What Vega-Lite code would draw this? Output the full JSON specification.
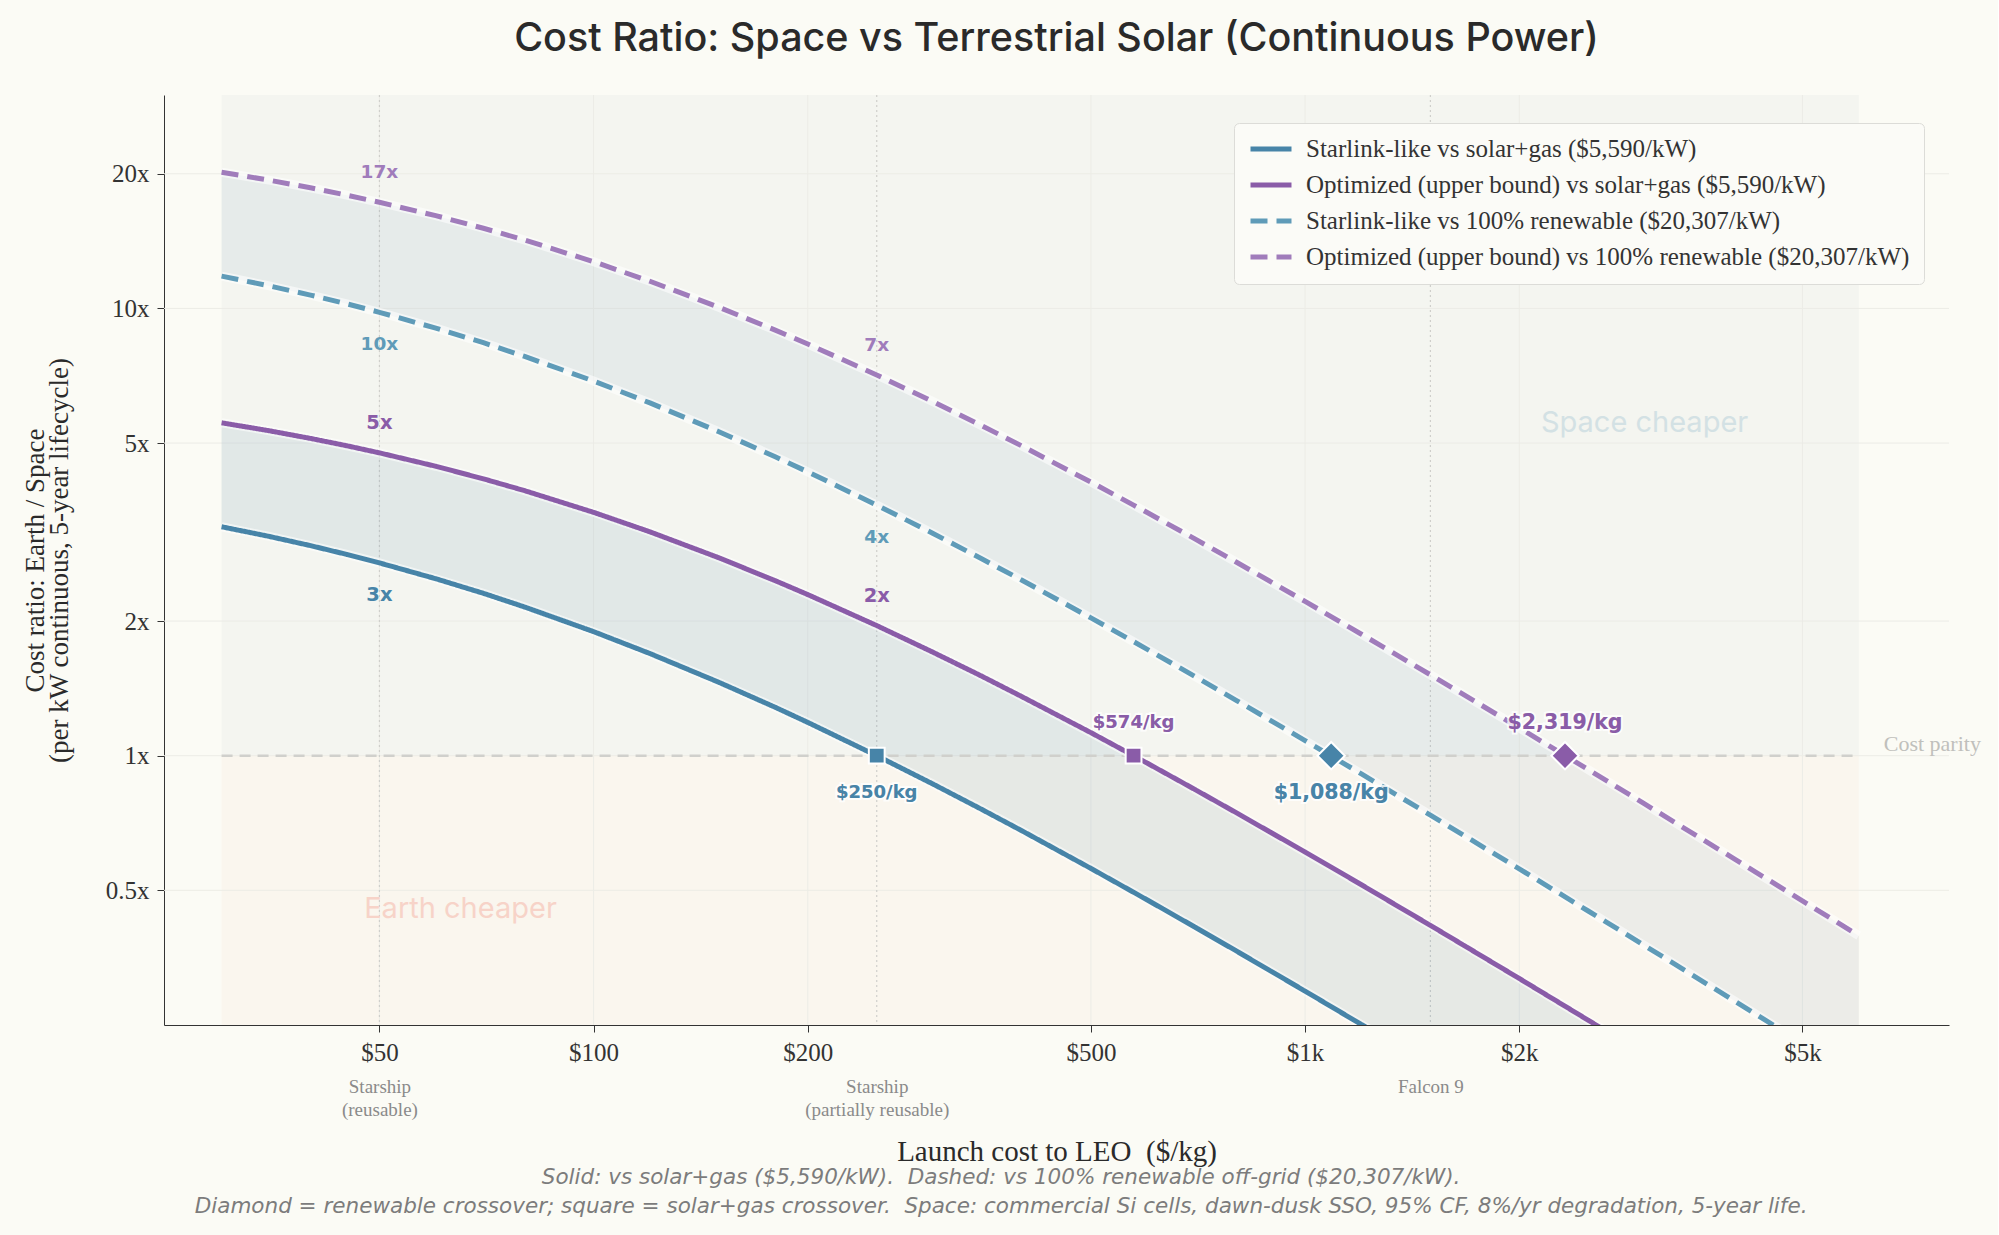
{
  "$schema": "https://vega.github.io/schema/vega-lite/v6.json",
  "background": "#fbfbf5",
  "padding": {"left": 21, "top": 18, "right": 17, "bottom": 22},
  "title": {
    "text": [
      "Solid: vs solar+gas ($5,590/kW).\u00a0 Dashed: vs 100% renewable off-grid ($20,307/kW).",
      "Diamond = renewable crossover; square = solar+gas crossover.\u00a0 Space: commercial Si cells, dawn-dusk SSO, 95% CF, 8%/yr degradation, 5-year life."
    ],
    "orient": "bottom",
    "anchor": "middle",
    "frame": "bounds",
    "font": "DejaVu Sans",
    "fontStyle": "italic",
    "fontWeight": "normal",
    "fontSize": 21.5,
    "color": "#7c7c7c",
    "lineHeight": 29,
    "offset": 1
  },
  "datasets": {
    "curves": [
      {"L": 30, "key": "s1", "ratio": 3.25}, {"L": 30, "key": "s2", "ratio": 5.55}, {"L": 30, "key": "d1", "ratio": 11.81}, {"L": 30, "key": "d2", "ratio": 20.16},
      {"L": 35, "key": "s1", "ratio": 3.092}, {"L": 35, "key": "s2", "ratio": 5.327}, {"L": 35, "key": "d1", "ratio": 11.23}, {"L": 35, "key": "d2", "ratio": 19.35},
      {"L": 40, "key": "s1", "ratio": 2.949}, {"L": 40, "key": "s2", "ratio": 5.121}, {"L": 40, "key": "d1", "ratio": 10.71}, {"L": 40, "key": "d2", "ratio": 18.61},
      {"L": 45, "key": "s1", "ratio": 2.818}, {"L": 45, "key": "s2", "ratio": 4.931}, {"L": 45, "key": "d1", "ratio": 10.24}, {"L": 45, "key": "d2", "ratio": 17.91},
      {"L": 50, "key": "s1", "ratio": 2.698}, {"L": 50, "key": "s2", "ratio": 4.754}, {"L": 50, "key": "d1", "ratio": 9.802}, {"L": 50, "key": "d2", "ratio": 17.27},
      {"L": 60, "key": "s1", "ratio": 2.487}, {"L": 60, "key": "s2", "ratio": 4.437}, {"L": 60, "key": "d1", "ratio": 9.035}, {"L": 60, "key": "d2", "ratio": 16.12},
      {"L": 70, "key": "s1", "ratio": 2.307}, {"L": 70, "key": "s2", "ratio": 4.159}, {"L": 70, "key": "d1", "ratio": 8.381}, {"L": 70, "key": "d2", "ratio": 15.11},
      {"L": 80, "key": "s1", "ratio": 2.15}, {"L": 80, "key": "s2", "ratio": 3.913}, {"L": 80, "key": "d1", "ratio": 7.811}, {"L": 80, "key": "d2", "ratio": 14.22},
      {"L": 100, "key": "s1", "ratio": 1.894}, {"L": 100, "key": "s2", "ratio": 3.5}, {"L": 100, "key": "d1", "ratio": 6.881}, {"L": 100, "key": "d2", "ratio": 12.72},
      {"L": 120, "key": "s1", "ratio": 1.692}, {"L": 120, "key": "s2", "ratio": 3.166}, {"L": 120, "key": "d1", "ratio": 6.147}, {"L": 120, "key": "d2", "ratio": 11.5},
      {"L": 150, "key": "s1", "ratio": 1.459}, {"L": 150, "key": "s2", "ratio": 2.77}, {"L": 150, "key": "d1", "ratio": 5.301}, {"L": 150, "key": "d2", "ratio": 10.06},
      {"L": 180, "key": "s1", "ratio": 1.283}, {"L": 180, "key": "s2", "ratio": 2.462}, {"L": 180, "key": "d1", "ratio": 4.659}, {"L": 180, "key": "d2", "ratio": 8.943},
      {"L": 200, "key": "s1", "ratio": 1.187}, {"L": 200, "key": "s2", "ratio": 2.292}, {"L": 200, "key": "d1", "ratio": 4.311}, {"L": 200, "key": "d2", "ratio": 8.325},
      {"L": 250, "key": "s1", "ratio": 1.0}, {"L": 250, "key": "s2", "ratio": 1.954}, {"L": 250, "key": "d1", "ratio": 3.633}, {"L": 250, "key": "d2", "ratio": 7.099},
      {"L": 300, "key": "s1", "ratio": 0.864}, {"L": 300, "key": "s2", "ratio": 1.703}, {"L": 300, "key": "d1", "ratio": 3.139}, {"L": 300, "key": "d2", "ratio": 6.188},
      {"L": 350, "key": "s1", "ratio": 0.7606}, {"L": 350, "key": "s2", "ratio": 1.51}, {"L": 350, "key": "d1", "ratio": 2.763}, {"L": 350, "key": "d2", "ratio": 5.484},
      {"L": 400, "key": "s1", "ratio": 0.6793}, {"L": 400, "key": "s2", "ratio": 1.355}, {"L": 400, "key": "d1", "ratio": 2.468}, {"L": 400, "key": "d2", "ratio": 4.924},
      {"L": 500, "key": "s1", "ratio": 0.5597}, {"L": 500, "key": "s2", "ratio": 1.126}, {"L": 500, "key": "d1", "ratio": 2.033}, {"L": 500, "key": "d2", "ratio": 4.089},
      {"L": 574, "key": "s1", "ratio": 0.4951}, {"L": 574, "key": "s2", "ratio": 1.0}, {"L": 574, "key": "d1", "ratio": 1.799}, {"L": 574, "key": "d2", "ratio": 3.633},
      {"L": 600, "key": "s1", "ratio": 0.4759}, {"L": 600, "key": "s2", "ratio": 0.9623}, {"L": 600, "key": "d1", "ratio": 1.729}, {"L": 600, "key": "d2", "ratio": 3.496},
      {"L": 700, "key": "s1", "ratio": 0.4139}, {"L": 700, "key": "s2", "ratio": 0.8404}, {"L": 700, "key": "d1", "ratio": 1.504}, {"L": 700, "key": "d2", "ratio": 3.053},
      {"L": 800, "key": "s1", "ratio": 0.3662}, {"L": 800, "key": "s2", "ratio": 0.7459}, {"L": 800, "key": "d1", "ratio": 1.33}, {"L": 800, "key": "d2", "ratio": 2.71},
      {"L": 1000, "key": "s1", "ratio": 0.2976}, {"L": 1000, "key": "s2", "ratio": 0.609}, {"L": 1000, "key": "d1", "ratio": 1.081}, {"L": 1000, "key": "d2", "ratio": 2.213},
      {"L": 1200, "key": "s1", "ratio": 0.2506}, {"L": 1200, "key": "s2", "ratio": 0.5146}, {"L": 1200, "key": "d1", "ratio": 0.9105}, {"L": 1200, "key": "d2", "ratio": 1.869},
      {"L": 1500, "key": "s1", "ratio": 0.2027}, {"L": 1500, "key": "s2", "ratio": 0.4175}, {"L": 1500, "key": "d1", "ratio": 0.7364}, {"L": 1500, "key": "d2", "ratio": 1.517},
      {"L": 2000, "key": "s1", "ratio": 0.1537}, {"L": 2000, "key": "s2", "ratio": 0.3176}, {"L": 2000, "key": "d1", "ratio": 0.5584}, {"L": 2000, "key": "d2", "ratio": 1.154},
      {"L": 2500, "key": "s1", "ratio": 0.1238}, {"L": 2500, "key": "s2", "ratio": 0.2562}, {"L": 2500, "key": "d1", "ratio": 0.4496}, {"L": 2500, "key": "d2", "ratio": 0.931},
      {"L": 3000, "key": "s1", "ratio": 0.1036}, {"L": 3000, "key": "s2", "ratio": 0.2148}, {"L": 3000, "key": "d1", "ratio": 0.3763}, {"L": 3000, "key": "d2", "ratio": 0.7803},
      {"L": 4000, "key": "s1", "ratio": 0.0781}, {"L": 4000, "key": "s2", "ratio": 0.1623}, {"L": 4000, "key": "d1", "ratio": 0.2838}, {"L": 4000, "key": "d2", "ratio": 0.5895},
      {"L": 5000, "key": "s1", "ratio": 0.0627}, {"L": 5000, "key": "s2", "ratio": 0.1304}, {"L": 5000, "key": "d1", "ratio": 0.2278}, {"L": 5000, "key": "d2", "ratio": 0.4737},
      {"L": 6000, "key": "s1", "ratio": 0.0524}, {"L": 6000, "key": "s2", "ratio": 0.109}, {"L": 6000, "key": "d1", "ratio": 0.1903}, {"L": 6000, "key": "d2", "ratio": 0.3959}
    ],
    "zones": [
      {"zone": "Space cheaper", "x0": 30, "x1": 6000, "lo": 1, "hi": 30},
      {"zone": "Earth cheaper", "x0": 30, "x1": 6000, "lo": 0.25, "hi": 1}
    ],
    "gridx": [{"L": 50}, {"L": 100}, {"L": 200}, {"L": 500}, {"L": 1000}, {"L": 2000}, {"L": 5000}],
    "gridy": [{"ratio": 0.5}, {"ratio": 1}, {"ratio": 2}, {"ratio": 5}, {"ratio": 10}, {"ratio": 20}],
    "vehicles": [
      {"L": 50, "vehicle": "Starship (reusable)"},
      {"L": 250, "vehicle": "Starship (partially reusable)"},
      {"L": 1500, "vehicle": "Falcon 9"}
    ],
    "parity": [{"x0": 30, "x1": 6000, "ratio": 1, "text": "Cost parity"}],
    "crossings": [
      {"L": 250, "ratio": 1, "family": "Starlink-like", "marker": "square", "pos": "below", "text": "$250/kg"},
      {"L": 574, "ratio": 1, "family": "Optimized", "marker": "square", "pos": "above", "text": "$574/kg"},
      {"L": 1088, "ratio": 1, "family": "Starlink-like", "marker": "diamond", "pos": "below", "text": "$1,088/kg"},
      {"L": 2319, "ratio": 1, "family": "Optimized", "marker": "diamond", "pos": "above", "text": "$2,319/kg"}
    ],
    "ratioLabels": [
      {"L": 50, "key": "d2", "kind": "dashed", "pos": "above", "ratio": 17.27, "text": "17x"},
      {"L": 50, "key": "d1", "kind": "dashed", "pos": "below", "ratio": 9.802, "text": "10x"},
      {"L": 50, "key": "s2", "kind": "solid", "pos": "above", "ratio": 4.754, "text": "5x"},
      {"L": 50, "key": "s1", "kind": "solid", "pos": "below", "ratio": 2.698, "text": "3x"},
      {"L": 250, "key": "d2", "kind": "dashed", "pos": "above", "ratio": 7.099, "text": "7x"},
      {"L": 250, "key": "d1", "kind": "dashed", "pos": "below", "ratio": 3.633, "text": "4x"},
      {"L": 250, "key": "s2", "kind": "solid", "pos": "above", "ratio": 1.954, "text": "2x"}
    ],
    "regions": [
      {"L": 3000, "ratio": 5.53, "text": "Space cheaper"},
      {"L": 65, "ratio": 0.4535, "text": "Earth cheaper"}
    ]
  },
  "vconcat": [
    {
      "width": 1785,
      "height": 930,
      "title": {
        "text": "Cost Ratio: Space vs Terrestrial Solar (Continuous Power)",
        "anchor": "middle",
        "frame": "group",
        "font": "Inter",
        "fontWeight": 500,
        "fontSize": 39.5,
        "color": "#2a2a2a",
        "offset": 35
      },
      "resolve": {"axis": {"x": "independent"}},
      "layer": [
        {
          "resolve": {"scale": {"fill": "independent", "size": "independent"}},
          "encoding": {
            "x": {
              "type": "quantitative",
              "scale": {"type": "log", "domain": [24.9, 8035], "nice": false},
              "axis": {
                "values": [50, 100, 200, 500, 1000, 2000, 5000],
                "labelExpr": "datum.value >= 1000 ? '$' + datum.value / 1000 + 'k' : '$' + datum.value",
                "title": "Launch cost to LEO\u00a0 ($/kg)",
                "titlePadding": 72,
                "labelPadding": 8,
                "grid": false
              }
            },
            "y": {
              "type": "quantitative",
              "scale": {"type": "log", "domain": [0.25, 30], "nice": false},
              "axis": {
                "values": [0.5, 1, 2, 5, 10, 20],
                "labelExpr": "datum.value + 'x'",
                "title": ["Cost ratio: Earth / Space", "(per kW continuous, 5-year lifecycle)"],
                "titleFontSize": 27,
                "titlePadding": 32,
                "titleLineHeight": 24,
                "labelPadding": 8,
                "grid": false
              }
            }
          },
          "layer": [
            {
              "data": {"name": "zones"},
              "mark": {"type": "rect"},
              "encoding": {
                "x": {"field": "x0"},
                "x2": {"field": "x1"},
                "y": {"field": "lo"},
                "y2": {"field": "hi"},
                "fill": {
                  "field": "zone",
                  "type": "nominal",
                  "scale": {"domain": ["Space cheaper", "Earth cheaper"], "range": ["#f4f5f0", "#faf6ee"]},
                  "legend": null
                }
              }
            },
            {
              "data": {"name": "gridx"},
              "mark": {"type": "rule", "color": "#ecece6", "strokeWidth": 1},
              "encoding": {"x": {"field": "L"}}
            },
            {
              "data": {"name": "gridy"},
              "mark": {"type": "rule", "color": "#ecece6", "strokeWidth": 1},
              "encoding": {"y": {"field": "ratio"}}
            },
            {
              "data": {"name": "vehicles"},
              "mark": {"type": "rule", "color": "#cfcfcb", "strokeWidth": 1.2, "strokeDash": [2, 3]},
              "encoding": {"x": {"field": "L"}}
            },
            {
              "data": {"name": "curves"},
              "transform": [{"pivot": "key", "value": "ratio", "groupby": ["L"]}],
              "mark": {"type": "area", "color": "#4784a8", "opacity": 0.11, "clip": true},
              "encoding": {"x": {"field": "L"}, "y": {"field": "s1"}, "y2": {"field": "s2"}}
            },
            {
              "data": {"name": "curves"},
              "transform": [{"pivot": "key", "value": "ratio", "groupby": ["L"]}],
              "mark": {"type": "area", "color": "#4784a8", "opacity": 0.08, "clip": true},
              "encoding": {"x": {"field": "L"}, "y": {"field": "d1"}, "y2": {"field": "d2"}}
            },
            {
              "data": {"name": "parity"},
              "mark": {"type": "rule", "color": "#d0d0cc", "strokeWidth": 2.5, "strokeDash": [11, 7]},
              "encoding": {"x": {"field": "x0"}, "x2": {"field": "x1"}, "y": {"field": "ratio"}}
            },
            {
              "data": {"name": "parity"},
              "mark": {"type": "text", "align": "left", "baseline": "middle", "dx": 25, "dy": -12, "font": "Liberation Serif", "fontSize": 22, "color": "#c0c0bc"},
              "encoding": {"x": {"field": "x1"}, "y": {"field": "ratio"}, "text": {"field": "text"}}
            },
            {
              "data": {"name": "curves"},
              "mark": {"type": "line", "color": "#ffffff", "opacity": 0.55, "strokeWidth": 9, "clip": true},
              "encoding": {"x": {"field": "L"}, "y": {"field": "ratio"}, "detail": {"field": "key"}}
            },
            {
              "data": {"name": "curves"},
              "mark": {"type": "line", "strokeWidth": 5, "clip": true},
              "encoding": {
                "x": {"field": "L"},
                "y": {"field": "ratio"},
                "color": {
                  "field": "key",
                  "type": "nominal",
                  "scale": {"domain": ["s1", "s2", "d1", "d2"], "range": ["#4784a8", "#8a5ca8", "#5f9bb8", "#a07cbb"]},
                  "legend": {
                    "orient": "none",
                    "legendX": 1070,
                    "legendY": 28,
                    "title": null,
                    "labelExpr": "{'s1': 'Starlink-like vs solar+gas ($5,590/kW)', 's2': 'Optimized (upper bound) vs solar+gas ($5,590/kW)', 'd1': 'Starlink-like vs 100% renewable ($20,307/kW)', 'd2': 'Optimized (upper bound) vs 100% renewable ($20,307/kW)'}[datum.label]"
                  }
                },
                "strokeDash": {
                  "field": "key",
                  "type": "nominal",
                  "scale": {"domain": ["s1", "s2", "d1", "d2"], "range": [[1, 0], [1, 0], [17, 9], [17, 9]]},
                  "legend": {
                    "orient": "none",
                    "legendX": 1070,
                    "legendY": 28,
                    "title": null,
                    "labelExpr": "{'s1': 'Starlink-like vs solar+gas ($5,590/kW)', 's2': 'Optimized (upper bound) vs solar+gas ($5,590/kW)', 'd1': 'Starlink-like vs 100% renewable ($20,307/kW)', 'd2': 'Optimized (upper bound) vs 100% renewable ($20,307/kW)'}[datum.label]"
                  }
                }
              }
            },
            {
              "data": {"name": "crossings"},
              "mark": {"type": "point", "filled": true, "opacity": 1, "stroke": "#ffffff", "strokeWidth": 2},
              "encoding": {
                "x": {"field": "L"},
                "y": {"field": "ratio"},
                "fill": {"field": "family", "type": "nominal", "scale": {"domain": ["Starlink-like", "Optimized"], "range": ["#4784a8", "#8a5ca8"]}, "legend": null},
                "shape": {"field": "marker", "type": "nominal", "scale": {"domain": ["square", "diamond"], "range": ["square", "diamond"]}, "legend": null},
                "size": {"field": "marker", "type": "nominal", "scale": {"domain": ["square", "diamond"], "range": [250, 750]}, "legend": null}
              }
            },
            {
              "data": {"name": "crossings"},
              "transform": [{"filter": "datum.pos == 'above'"}],
              "mark": {"type": "text", "baseline": "middle", "dy": -33, "font": "DejaVu Sans", "fontWeight": "bold", "stroke": "#ffffff", "strokeWidth": 4, "strokeOpacity": 0.8},
              "encoding": {
                "x": {"field": "L"}, "y": {"field": "ratio"}, "text": {"field": "text"},
                "size": {"field": "marker", "type": "nominal", "scale": {"domain": ["square", "diamond"], "range": [18, 20.5]}, "legend": null}
              }
            },
            {
              "data": {"name": "crossings"},
              "transform": [{"filter": "datum.pos == 'above'"}],
              "mark": {"type": "text", "baseline": "middle", "dy": -33, "font": "DejaVu Sans", "fontWeight": "bold"},
              "encoding": {
                "x": {"field": "L"}, "y": {"field": "ratio"}, "text": {"field": "text"},
                "fill": {"field": "family", "type": "nominal", "scale": {"domain": ["Starlink-like", "Optimized"], "range": ["#4784a8", "#8a5ca8"]}, "legend": null},
                "size": {"field": "marker", "type": "nominal", "scale": {"domain": ["square", "diamond"], "range": [18, 20.5]}, "legend": null}
              }
            },
            {
              "data": {"name": "crossings"},
              "transform": [{"filter": "datum.pos == 'below'"}],
              "mark": {"type": "text", "baseline": "middle", "dy": 37, "font": "DejaVu Sans", "fontWeight": "bold", "stroke": "#ffffff", "strokeWidth": 4, "strokeOpacity": 0.8},
              "encoding": {
                "x": {"field": "L"}, "y": {"field": "ratio"}, "text": {"field": "text"},
                "size": {"field": "marker", "type": "nominal", "scale": {"domain": ["square", "diamond"], "range": [18, 20.5]}, "legend": null}
              }
            },
            {
              "data": {"name": "crossings"},
              "transform": [{"filter": "datum.pos == 'below'"}],
              "mark": {"type": "text", "baseline": "middle", "dy": 37, "font": "DejaVu Sans", "fontWeight": "bold"},
              "encoding": {
                "x": {"field": "L"}, "y": {"field": "ratio"}, "text": {"field": "text"},
                "fill": {"field": "family", "type": "nominal", "scale": {"domain": ["Starlink-like", "Optimized"], "range": ["#4784a8", "#8a5ca8"]}, "legend": null},
                "size": {"field": "marker", "type": "nominal", "scale": {"domain": ["square", "diamond"], "range": [18, 20.5]}, "legend": null}
              }
            },
            {
              "data": {"name": "ratioLabels"},
              "transform": [{"filter": "datum.pos == 'above'"}],
              "mark": {"type": "text", "baseline": "middle", "dy": -30, "font": "DejaVu Sans", "fontWeight": "bold"},
              "encoding": {
                "x": {"field": "L"}, "y": {"field": "ratio"}, "text": {"field": "text"},
                "color": {"field": "key", "type": "nominal", "legend": null},
                "size": {"field": "kind", "type": "nominal", "scale": {"domain": ["solid", "dashed"], "range": [19.5, 18.5]}, "legend": null}
              }
            },
            {
              "data": {"name": "ratioLabels"},
              "transform": [{"filter": "datum.pos == 'below'"}],
              "mark": {"type": "text", "baseline": "middle", "dy": 32, "font": "DejaVu Sans", "fontWeight": "bold"},
              "encoding": {
                "x": {"field": "L"}, "y": {"field": "ratio"}, "text": {"field": "text"},
                "color": {"field": "key", "type": "nominal", "legend": null},
                "size": {"field": "kind", "type": "nominal", "scale": {"domain": ["solid", "dashed"], "range": [19.5, 18.5]}, "legend": null}
              }
            },
            {
              "data": {"name": "regions"},
              "mark": {"type": "text", "baseline": "middle", "align": "center", "font": "Inter", "fontSize": 29},
              "encoding": {
                "x": {"field": "L"}, "y": {"field": "ratio"}, "text": {"field": "text"},
                "fill": {"field": "text", "type": "nominal", "scale": {"domain": ["Space cheaper", "Earth cheaper"], "range": ["#d3e1e4", "#f7d3c8"]}, "legend": null}
              }
            }
          ]
        },
        {
          "data": {"name": "vehicles"},
          "mark": {"type": "rule", "opacity": 0},
          "encoding": {
            "x": {
              "field": "L",
              "type": "quantitative",
              "axis": {
                "orient": "bottom",
                "values": [50, 250, 1500],
                "labelExpr": "datum.value == 50 ? ['Starship', '(reusable)'] : datum.value == 250 ? ['Starship', '(partially reusable)'] : 'Falcon 9'",
                "domain": false,
                "ticks": false,
                "tickSize": 0,
                "grid": false,
                "title": null,
                "labelPadding": 52,
                "labelFont": "Liberation Serif",
                "labelFontSize": 19,
                "labelLineHeight": 23,
                "labelColor": "#8a8a8a",
                "labelBaseline": "top"
              }
            }
          }
        }
      ]
    }
  ],
  "config": {
    "view": {"stroke": null},
    "axis": {
      "domainColor": "#333333",
      "tickColor": "#333333",
      "tickSize": 7,
      "labelFont": "Liberation Serif",
      "labelFontSize": 25,
      "labelColor": "#333333",
      "titleFont": "Liberation Serif",
      "titleFontSize": 29,
      "titleFontWeight": "normal",
      "titleColor": "#2a2a2a"
    },
    "legend": {
      "fillColor": "#fbfbf7",
      "strokeColor": "#dcdcd8",
      "cornerRadius": 5,
      "padding": 14,
      "labelFont": "Liberation Serif",
      "labelFontSize": 25,
      "labelColor": "#333333",
      "labelLimit": 900,
      "labelOffset": 12,
      "symbolType": "stroke",
      "symbolSize": 1681,
      "symbolStrokeWidth": 5,
      "clipHeight": 24,
      "rowPadding": 11
    }
  }
}
